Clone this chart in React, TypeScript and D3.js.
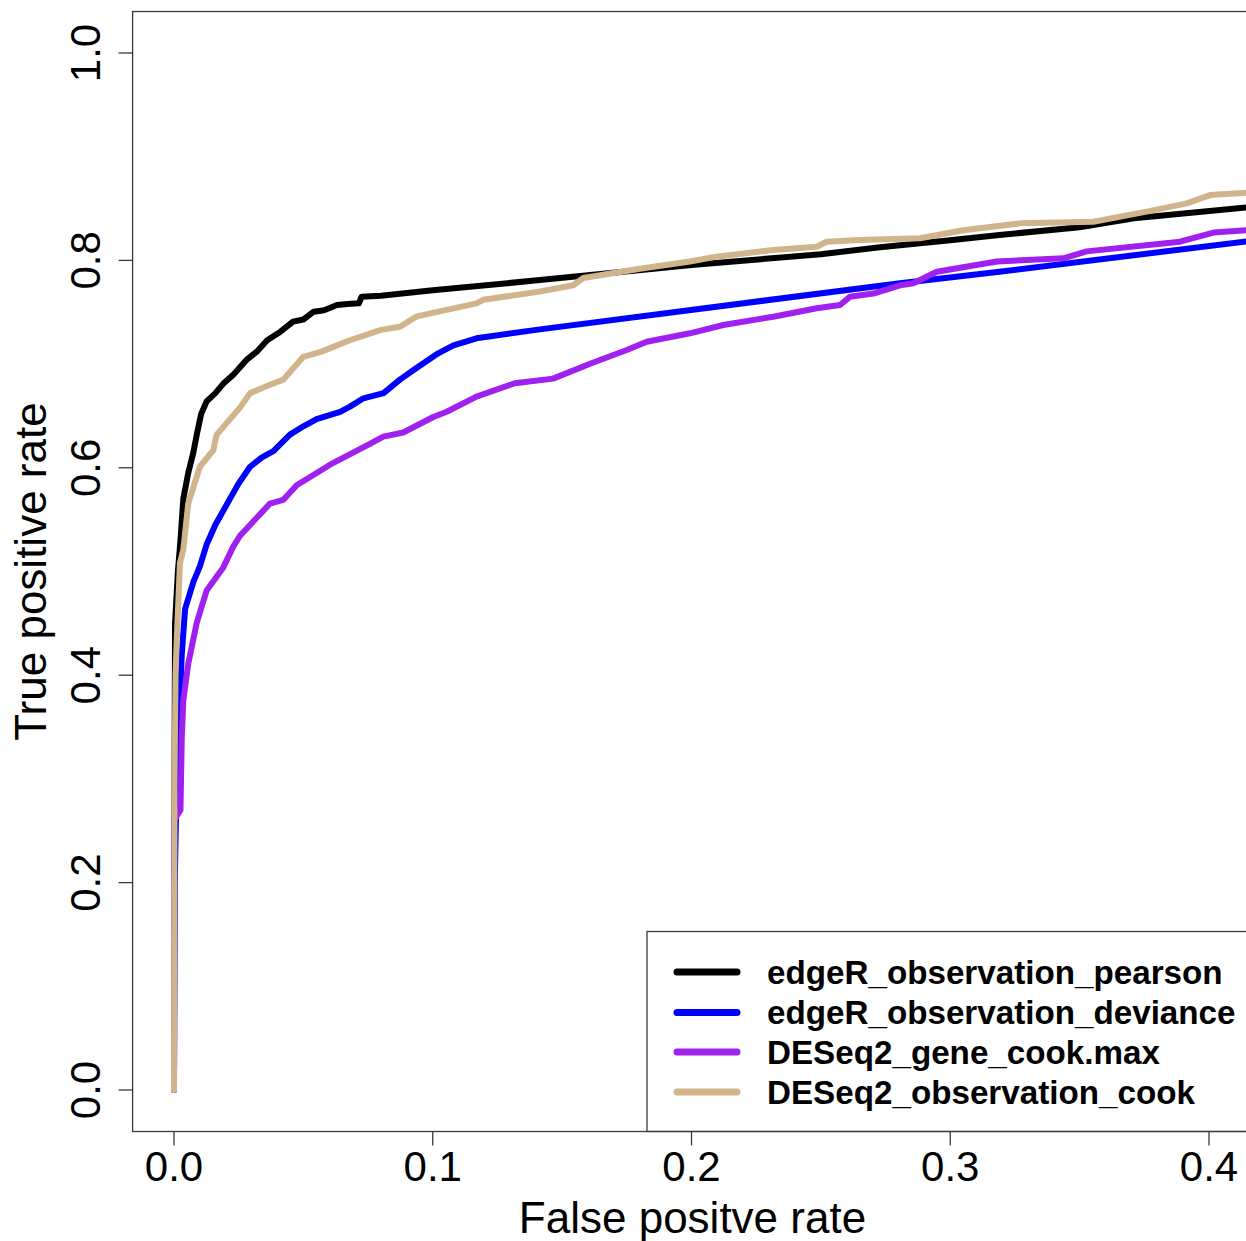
import React from "react";
import * as d3 from "d3";

type Pt = [number, number];

const xTicks = [0, 0.1, 0.2, 0.3, 0.4];
const yTicks = [0, 0.2, 0.4, 0.6, 0.8, 1.0];

const seriesNames = [
  "edgeR_observation_pearson",
  "edgeR_observation_deviance",
  "DESeq2_gene_cook.max",
  "DESeq2_observation_cook",
];
const seriesColors = ["#000000", "#0000FF", "#A020F0", "#D2B48C"];

const pearson: Pt[] = [
  [0, 0], [0.0002, 0.3], [0.0004, 0.45], [0.0015, 0.5], [0.0025, 0.53], [0.0036, 0.57],
  [0.0055, 0.595], [0.0075, 0.615], [0.0088, 0.632], [0.0105, 0.652], [0.0126, 0.664],
  [0.016, 0.672], [0.019, 0.681], [0.023, 0.69], [0.028, 0.704], [0.032, 0.712],
  [0.036, 0.723], [0.041, 0.731], [0.046, 0.741], [0.05, 0.743], [0.054, 0.7505],
  [0.058, 0.752], [0.063, 0.757], [0.067, 0.758], [0.0715, 0.7586], [0.0725, 0.765],
  [0.08, 0.766], [0.1, 0.7712], [0.1414, 0.781], [0.2, 0.7956], [0.25, 0.806],
  [0.2729, 0.8126], [0.3, 0.8195], [0.319, 0.8245], [0.35, 0.832], [0.371, 0.8406],
  [0.4143, 0.851], [0.42, 0.852],
];

const deviance: Pt[] = [
  [0, 0], [0.0003, 0.2], [0.0015, 0.36], [0.0023, 0.3756], [0.003, 0.42], [0.0043, 0.464],
  [0.0075, 0.49], [0.01, 0.505], [0.0126, 0.526], [0.016, 0.545], [0.0216, 0.57],
  [0.025, 0.585], [0.0294, 0.601], [0.034, 0.61], [0.0384, 0.616], [0.0448, 0.632],
  [0.05, 0.64], [0.0551, 0.647], [0.0642, 0.654], [0.068, 0.659], [0.0732, 0.667],
  [0.081, 0.672], [0.0873, 0.685], [0.093, 0.695], [0.1021, 0.7104], [0.108, 0.718],
  [0.1169, 0.7249], [0.1414, 0.7335], [0.2806, 0.778], [0.319, 0.789], [0.42, 0.82],
];

const cookMax: Pt[] = [
  [0, 0], [0, 0.26], [0.0025, 0.27], [0.003, 0.34], [0.0036, 0.3756], [0.0055, 0.411],
  [0.0088, 0.4506], [0.0126, 0.4816], [0.019, 0.5037], [0.0229, 0.524], [0.0255, 0.5345],
  [0.0371, 0.5655], [0.0422, 0.569], [0.0474, 0.5832], [0.0603, 0.603], [0.0757, 0.623],
  [0.0809, 0.63], [0.0886, 0.634], [0.1002, 0.649], [0.1054, 0.654], [0.1169, 0.6686],
  [0.1317, 0.6815], [0.1465, 0.686], [0.1613, 0.7008], [0.175, 0.7136], [0.1827, 0.7216],
  [0.1994, 0.7297], [0.2123, 0.7377], [0.2316, 0.7457], [0.2484, 0.7538], [0.2574, 0.757],
  [0.2613, 0.765], [0.2703, 0.768], [0.2806, 0.776], [0.2857, 0.778], [0.2948, 0.789],
  [0.318, 0.799], [0.3437, 0.802], [0.3527, 0.8087], [0.3888, 0.818], [0.4017, 0.8268],
  [0.42, 0.83],
];

const obsCook: Pt[] = [
  [0, 0], [0.0002, 0.3], [0.0006, 0.4], [0.001, 0.43], [0.0023, 0.508], [0.0036, 0.521],
  [0.0055, 0.5655], [0.01, 0.601], [0.0152, 0.617], [0.0165, 0.632], [0.0255, 0.658],
  [0.0294, 0.672], [0.0371, 0.68], [0.0422, 0.685], [0.05, 0.707], [0.057, 0.712],
  [0.068, 0.723], [0.08, 0.733], [0.0873, 0.736], [0.0938, 0.746], [0.1169, 0.7586],
  [0.1195, 0.762], [0.1414, 0.77], [0.1543, 0.776], [0.1582, 0.783], [0.18, 0.792],
  [0.1994, 0.799], [0.2097, 0.8036], [0.2316, 0.81], [0.2484, 0.8132], [0.2522, 0.818],
  [0.2651, 0.8197], [0.2883, 0.8213], [0.305, 0.829], [0.327, 0.8357], [0.3553, 0.8373],
  [0.3759, 0.847], [0.3914, 0.855], [0.4004, 0.863], [0.42, 0.866],
];

const seriesData: Pt[][] = [pearson, deviance, cookMax, obsCook];

export default function App() {
  const W = 1246;
  const H = 1241;
  const left = 132.6, right = 1250.4, top = 11.5, bottom = 1131.5;
  const x = d3.scaleLinear().domain([-0.016, 0.416]).range([left, right]);
  const y = d3.scaleLinear().domain([-0.04, 1.04]).range([bottom, top]);
  const line = d3.line<Pt>().x((d) => x(d[0])).y((d) => y(d[1]));
  const font = "'Liberation Sans', Arial, Helvetica, sans-serif";
  const axisColor = "#3a3a3a";
  const lw = 6;

  const legLeft = 647, legTop = 931.5;
  const rowY = [972, 1012.5, 1052, 1092];

  return (
    <svg width={W} height={H} style={{ position: "absolute", left: 0, top: 0, background: "#fff" }}>
      <rect x={0} y={0} width={W} height={H} fill="#fff" />
      <defs>
        <clipPath id="plotclip">
          <rect x={left} y={top} width={right - left} height={bottom - top} />
        </clipPath>
      </defs>
      <g clipPath="url(#plotclip)">
        {seriesData.map((d, i) => (
          <path key={i} d={line(d) || ""} fill="none" stroke={seriesColors[i]} strokeWidth={lw}
            strokeLinejoin="round" strokeLinecap="round" />
        ))}
      </g>
      {/* legend */}
      <rect x={legLeft} y={legTop} width={700} height={bottom - legTop} fill="#fff" stroke={axisColor} strokeWidth={1.3} />
      {seriesNames.map((n, i) => (
        <g key={n}>
          <line x1={677} x2={737} y1={rowY[i]} y2={rowY[i]} stroke={seriesColors[i]} strokeWidth={lw + 1} strokeLinecap="round" />
          <text x={767} y={rowY[i]} dy="0.36em" fontFamily={font} fontWeight="bold" fontSize={33.2} fill="#000">{n}</text>
        </g>
      ))}
      {/* box */}
      <rect x={left} y={top} width={right - left} height={bottom - top} fill="none" stroke={axisColor} strokeWidth={1.3} />
      {/* x axis */}
      {xTicks.map((t) => (
        <g key={"x" + t}>
          <line x1={x(t)} x2={x(t)} y1={bottom} y2={bottom + 14} stroke={axisColor} strokeWidth={1.3} />
          <text x={x(t)} y={1181} textAnchor="middle" fontFamily={font} fontSize={42} fill="#000">{t.toFixed(1)}</text>
        </g>
      ))}
      {/* y axis */}
      {yTicks.map((t) => (
        <g key={"y" + t}>
          <line x1={left - 14} x2={left} y1={y(t)} y2={y(t)} stroke={axisColor} strokeWidth={1.3} />
          <text transform={`translate(100,${y(t)}) rotate(-90)`} textAnchor="middle" fontFamily={font} fontSize={42} fill="#000">{t.toFixed(1)}</text>
        </g>
      ))}
      <text x={(left + 1250.4) / 2 + 1} y={1233} textAnchor="middle" fontFamily={font} fontSize={44} fill="#000">False positve rate</text>
      <text transform={`translate(46,${(top + bottom) / 2}) rotate(-90)`} textAnchor="middle" fontFamily={font} fontSize={44} fill="#000">True positive rate</text>
    </svg>
  );
}
